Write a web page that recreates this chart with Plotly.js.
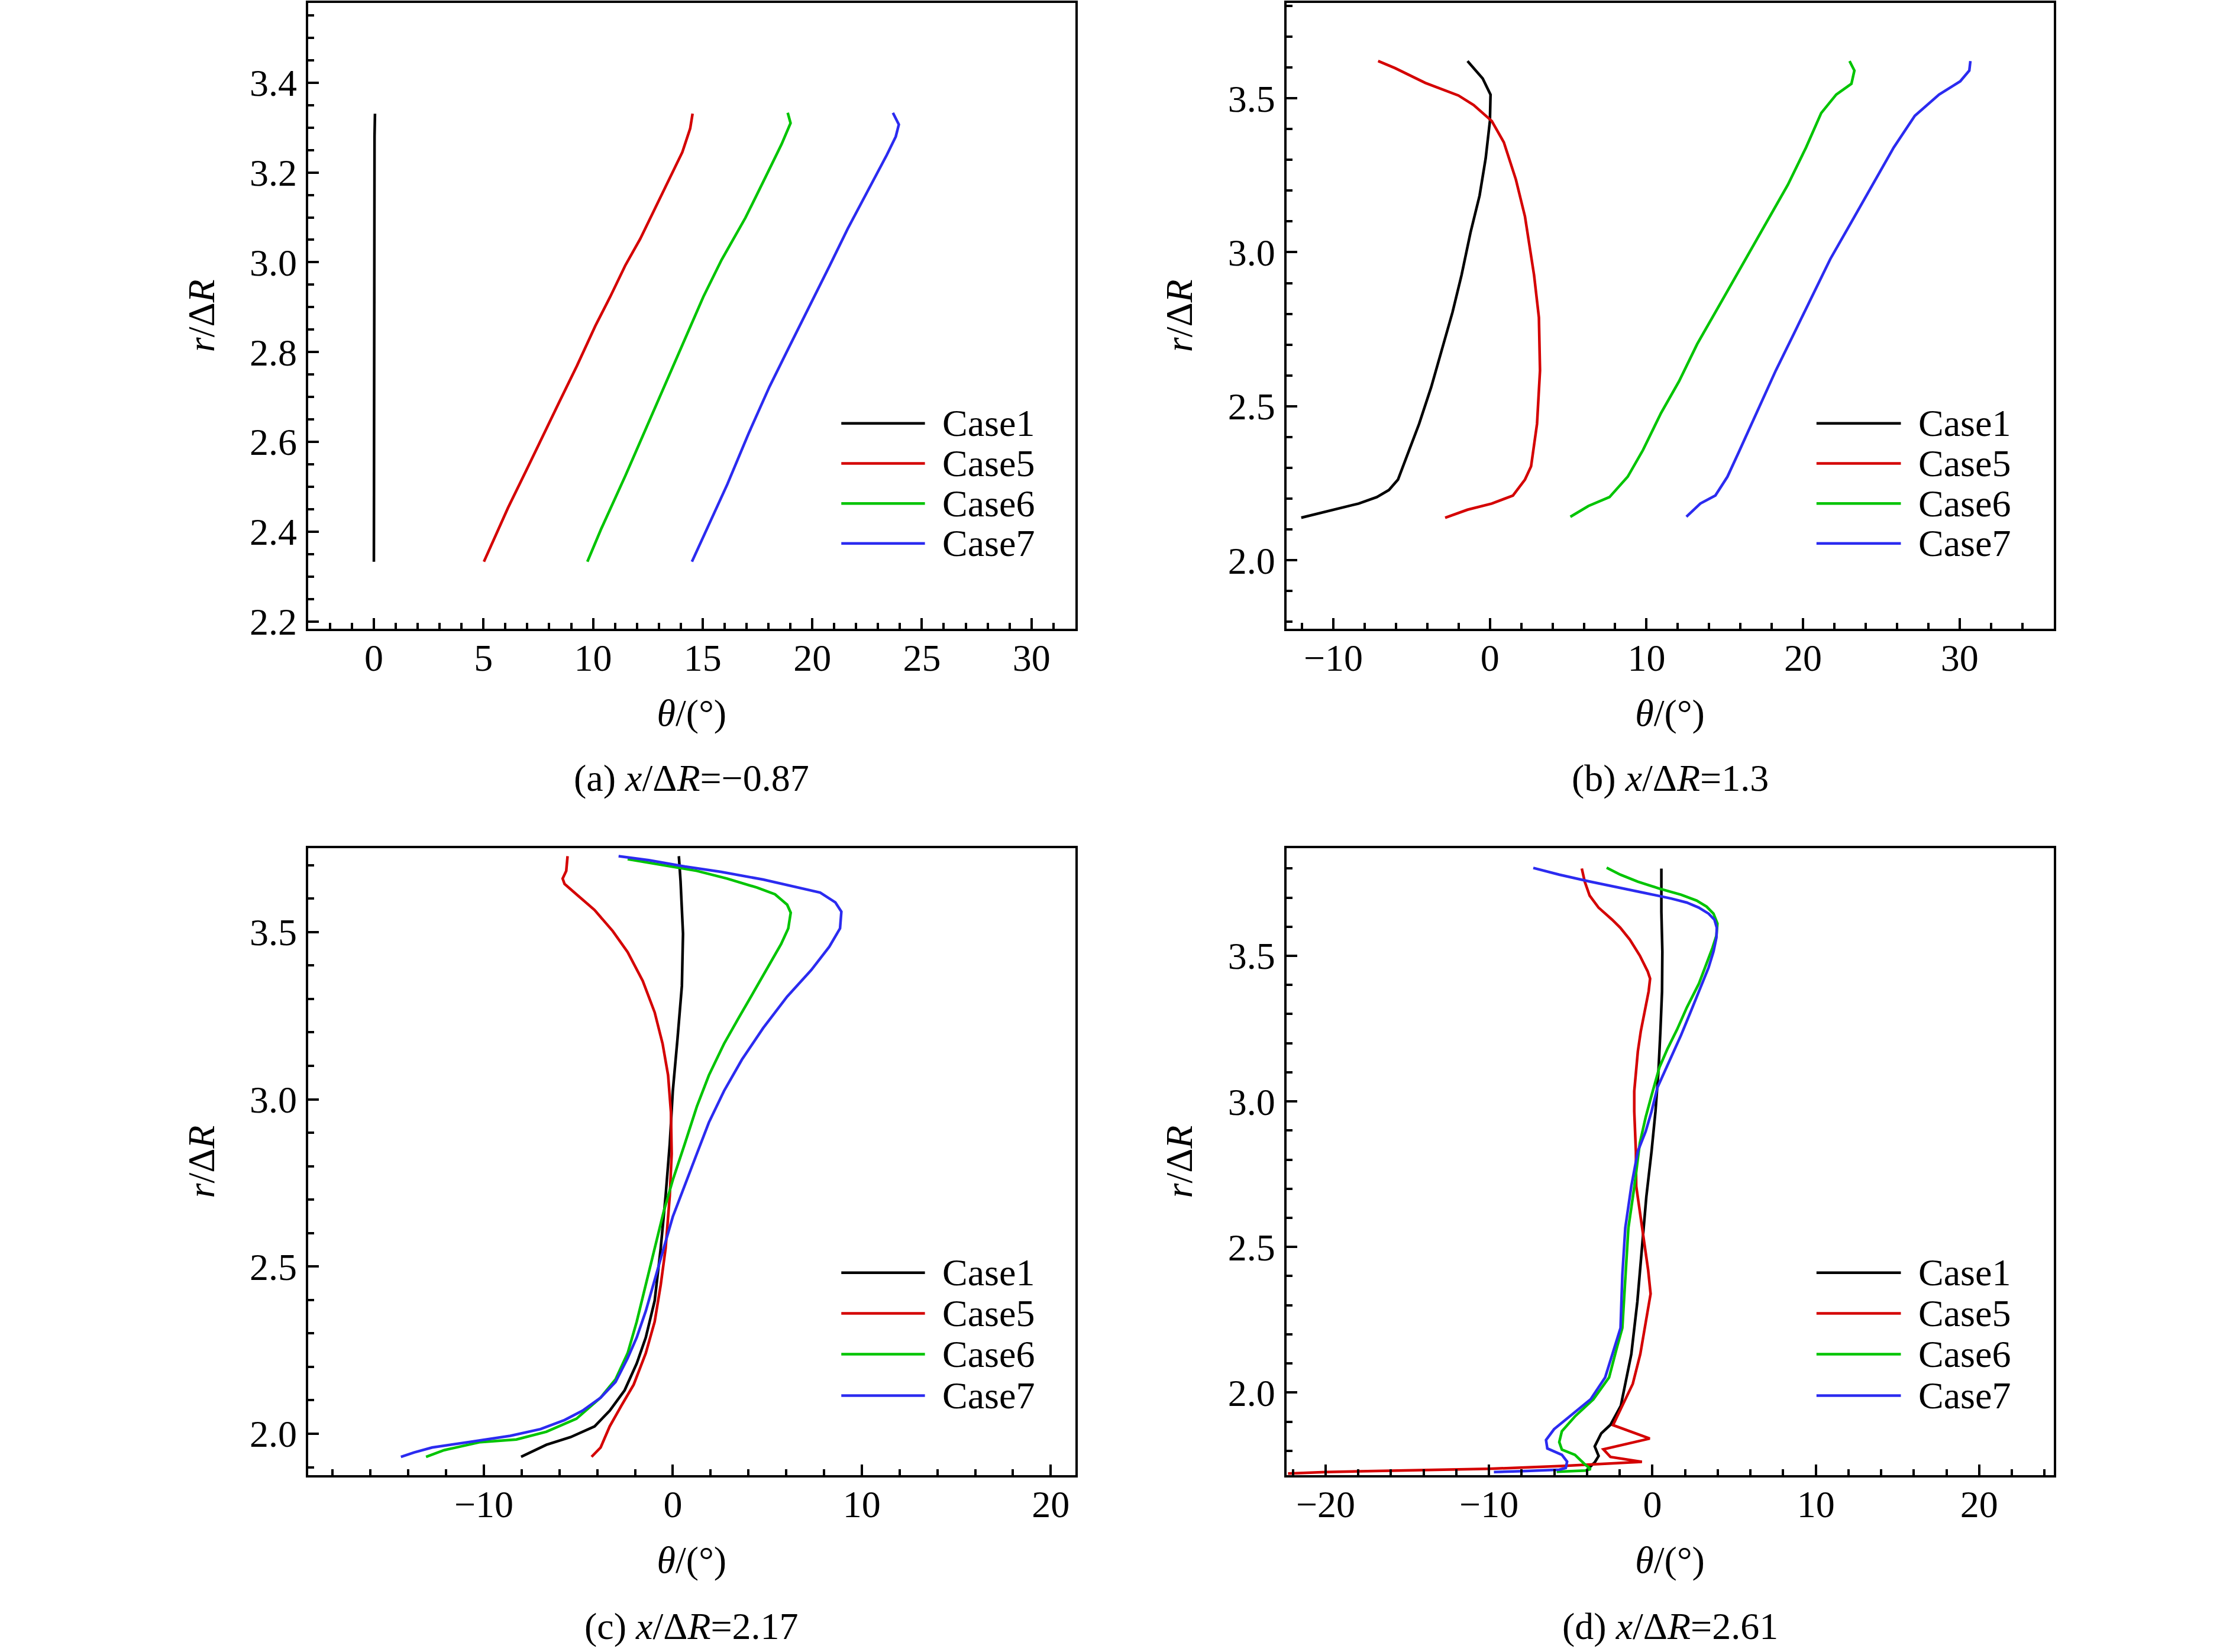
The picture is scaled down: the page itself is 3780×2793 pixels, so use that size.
<!DOCTYPE html>
<html>
<head>
<meta charset="utf-8">
<script src="https://cdn.plot.ly/plotly-3.0.1.min.js"></script>
<style>
	body {margin: 0; background: #fff;}
	#myDiv {width: 3780px; height: 2793px;}
</style>
</head>
<body>
<div id="myDiv"></div>
<script>
// series: theta in degrees, r in units of dR
var caseNames = ['Case1', 'Case5', 'Case6', 'Case7'];
var captions = ['(a) <i>x</i>/Δ<i>R</i>=−0.87', '(b) <i>x</i>/Δ<i>R</i>=1.3',
	'(c) <i>x</i>/Δ<i>R</i>=2.17', '(d) <i>x</i>/Δ<i>R</i>=2.61'];

// (a) x/dR = -0.87
var thetaA1 = [0, 0, 0, 0, 0.03, 0.05];
var rA1 = [2.333, 2.5, 2.8, 3.1, 3.28, 3.331];
var thetaA5 = [5.02, 5.43, 6.12, 6.94, 7.63, 8.45, 9.27, 10.10, 10.78, 11.47, 12.15, 12.84, 13.53, 14.07, 14.43, 14.54];
var rA5 = [2.333, 2.378, 2.453, 2.535, 2.606, 2.688, 2.770, 2.858, 2.923, 2.993, 3.052, 3.122, 3.192, 3.245, 3.298, 3.331];
var thetaA6 = [9.74, 10.37, 11.47, 12.15, 13.11, 14.21, 15.03, 15.86, 16.95, 17.78, 18.60, 19.01, 18.88];
var rA6 = [2.333, 2.406, 2.524, 2.600, 2.706, 2.829, 2.923, 3.005, 3.099, 3.181, 3.263, 3.310, 3.333];
var thetaA7 = [14.51, 15.31, 16.13, 17.09, 18.05, 18.88, 19.97, 20.80, 21.62, 22.58, 23.40, 23.81, 23.95, 23.68];
var rA7 = [2.333, 2.418, 2.506, 2.618, 2.723, 2.805, 2.911, 2.993, 3.075, 3.163, 3.239, 3.280, 3.307, 3.333];

// (b) x/dR = 1.3
var thetaB1 = [-1.43, -0.46, 0.04, 0.00, -0.27, -0.66, -1.24, -1.81, -2.39, -3.05, -3.75, -4.52, -5.29, -5.87, -6.45, -7.22, -8.38, -9.92, -12.05];
var rB1 = [3.621, 3.564, 3.512, 3.426, 3.305, 3.184, 3.064, 2.926, 2.805, 2.684, 2.562, 2.443, 2.340, 2.262, 2.228, 2.205, 2.184, 2.164, 2.138];
var thetaB5 = [-7.14, -6.06, -4.13, -2.01, -1.04, 0.12, 0.89, 1.66, 2.24, 2.82, 3.13, 3.20, 3.01, 2.63, 2.24, 1.47, 0.12, -1.43, -2.86];
var rB5 = [3.621, 3.598, 3.550, 3.509, 3.478, 3.426, 3.357, 3.236, 3.116, 2.926, 2.788, 2.616, 2.443, 2.305, 2.262, 2.210, 2.184, 2.164, 2.138];
var thetaB6 = [5.14, 6.29, 7.64, 8.80, 9.77, 10.93, 12.08, 13.24, 14.59, 15.95, 17.49, 19.03, 20.19, 21.16, 22.12, 23.09, 23.28, 22.97];
var rB6 = [2.141, 2.176, 2.205, 2.271, 2.357, 2.478, 2.581, 2.702, 2.822, 2.943, 3.081, 3.219, 3.340, 3.452, 3.512, 3.547, 3.590, 3.621];
var thetaB7 = [12.55, 13.44, 14.40, 15.17, 15.95, 16.72, 17.30, 18.26, 19.42, 20.58, 21.74, 23.09, 24.44, 25.79, 27.14, 28.69, 30.04, 30.62, 30.69];
var rB7 = [2.141, 2.184, 2.210, 2.271, 2.357, 2.443, 2.512, 2.616, 2.736, 2.857, 2.978, 3.098, 3.219, 3.340, 3.443, 3.512, 3.555, 3.590, 3.621];

// (c) x/dR = 2.17
var thetaC1 = [0.32, 0.41, 0.54, 0.48, 0.25, 0, -0.16, -0.38, -0.64, -0.96, -1.43, -1.91, -2.55, -3.34, -4.14, -5.41, -6.69, -7.32, -8.03];
var rC1 = [3.727, 3.652, 3.495, 3.339, 3.182, 3.025, 2.868, 2.712, 2.555, 2.398, 2.288, 2.210, 2.130, 2.069, 2.022, 1.990, 1.967, 1.951, 1.931];
var thetaC5 = [-5.57, -5.64, -5.83, -5.73, -5.10, -4.14, -3.18, -2.39, -1.59, -0.96, -0.54, -0.25, -0.10, -0.06, -0.16, -0.38, -0.64, -0.96, -1.43, -2.07, -2.71, -3.34, -3.82, -4.30];
var rC5 = [3.727, 3.683, 3.660, 3.644, 3.613, 3.566, 3.503, 3.440, 3.354, 3.260, 3.166, 3.072, 2.962, 2.837, 2.712, 2.555, 2.445, 2.335, 2.241, 2.147, 2.085, 2.022, 1.959, 1.931];
var thetaC6 = [-2.39, -0.64, 1.27, 2.87, 4.46, 5.41, 6.05, 6.24, 6.11, 5.73, 5.10, 4.30, 3.50, 2.71, 1.91, 1.27, 0.64, 0, -0.48, -0.96, -1.43, -1.91, -2.39, -3.03, -3.82, -5.10, -6.69, -8.28, -10.19, -11.46, -12.10, -13.06];
var rC6 = [3.718, 3.702, 3.683, 3.660, 3.633, 3.613, 3.582, 3.558, 3.511, 3.464, 3.401, 3.323, 3.245, 3.166, 3.072, 2.978, 2.868, 2.759, 2.665, 2.555, 2.445, 2.335, 2.241, 2.163, 2.108, 2.045, 2.006, 1.983, 1.975, 1.959, 1.951, 1.931];
var thetaC7 = [-2.87, -1.27, 0.64, 2.55, 4.78, 6.69, 7.80, 8.60, 8.92, 8.85, 8.28, 7.32, 6.05, 4.78, 3.66, 2.71, 1.91, 1.27, 0.64, 0, -0.48, -0.96, -1.43, -1.91, -2.39, -3.03, -3.82, -4.78, -5.73, -7.00, -8.60, -10.83, -12.74, -13.69, -14.39];
var rC7 = [3.727, 3.715, 3.696, 3.680, 3.657, 3.633, 3.618, 3.589, 3.561, 3.511, 3.456, 3.386, 3.307, 3.213, 3.119, 3.025, 2.931, 2.837, 2.743, 2.649, 2.555, 2.461, 2.367, 2.288, 2.226, 2.155, 2.108, 2.069, 2.041, 2.014, 1.994, 1.975, 1.959, 1.944, 1.931];

// (d) x/dR = 2.61
var thetaD1 = [0.55, 0.55, 0.61, 0.59, 0.49, 0.37, 0.19, -0.05, -0.37, -0.63, -0.92, -1.29, -1.61, -1.93, -2.57, -3.13, -3.53, -3.29, -3.53, -3.86, -4.0];
var rD1 = [3.80, 3.652, 3.515, 3.378, 3.241, 3.103, 2.966, 2.829, 2.673, 2.493, 2.312, 2.132, 2.044, 1.955, 1.889, 1.860, 1.815, 1.782, 1.760, 1.741, 1.735];
var thetaD5 = [-4.32, -4.14, -3.84, -3.30, -2.46, -1.97, -1.38, -0.77, -0.29, -0.14, -0.23, -0.47, -0.71, -0.89, -1.01, -1.11, -1.11, -1.07, -1.01, -0.99, -0.63, -0.26, -0.11, -0.37, -0.74, -1.20, -1.85, -2.41, -0.16, -3.00, -2.57, -0.64, -5.54, -10.0, -20.0, -22.3];
var rD5 = [3.80, 3.755, 3.707, 3.666, 3.624, 3.597, 3.556, 3.501, 3.447, 3.422, 3.378, 3.309, 3.241, 3.172, 3.103, 3.035, 2.966, 2.897, 2.829, 2.709, 2.565, 2.421, 2.339, 2.258, 2.132, 2.030, 1.955, 1.888, 1.842, 1.805, 1.779, 1.762, 1.748, 1.738, 1.727, 1.722];
var thetaD6 = [-2.80, -1.97, -0.89, 0.43, 1.75, 2.71, 3.32, 3.74, 3.98, 3.92, 3.68, 3.32, 2.85, 2.11, 1.51, 0.91, 0.43, -0.05, -0.41, -0.77, -1.10, -1.47, -1.66, -1.84, -2.17, -2.65, -3.61, -4.74, -5.54, -5.70, -5.54, -4.74, -4.18, -3.78, -4.10, -5.86];
var rD6 = [3.803, 3.779, 3.755, 3.731, 3.710, 3.690, 3.669, 3.645, 3.611, 3.570, 3.528, 3.474, 3.405, 3.323, 3.247, 3.179, 3.117, 3.021, 2.946, 2.857, 2.709, 2.565, 2.403, 2.222, 2.155, 2.052, 1.977, 1.918, 1.867, 1.830, 1.804, 1.786, 1.756, 1.737, 1.732, 1.728];
var thetaD7 = [-7.29, -5.70, -3.90, -2.09, -0.29, 1.15, 2.11, 2.83, 3.44, 3.80, 3.94, 3.92, 3.74, 3.44, 2.96, 2.35, 1.75, 1.15, 0.67, 0.31, -0.05, -0.41, -0.89, -1.29, -1.66, -1.84, -1.95, -2.33, -2.89, -3.78, -4.90, -6.02, -6.51, -6.43, -5.54, -5.22, -5.30, -5.70, -7.95, -9.70];
var rD7 = [3.802, 3.779, 3.756, 3.734, 3.714, 3.697, 3.683, 3.666, 3.645, 3.624, 3.597, 3.563, 3.515, 3.460, 3.391, 3.309, 3.227, 3.151, 3.090, 3.048, 2.966, 2.897, 2.829, 2.709, 2.565, 2.403, 2.222, 2.155, 2.052, 1.977, 1.926, 1.874, 1.837, 1.808, 1.786, 1.763, 1.741, 1.735, 1.730, 1.727];

var colors = ['#000000', '#d40000', '#00c400', '#2b2bf0'];
var fontFam = '"Liberation Serif", "Times New Roman", serif';

var panels = [
	{theta: [thetaA1, thetaA5, thetaA6, thetaA7], r: [rA1, rA5, rA6, rA7], xa: 'x', ya: 'y'},
	{theta: [thetaB1, thetaB5, thetaB6, thetaB7], r: [rB1, rB5, rB6, rB7], xa: 'x2', ya: 'y2'},
	{theta: [thetaC1, thetaC5, thetaC6, thetaC7], r: [rC1, rC5, rC6, rC7], xa: 'x3', ya: 'y3'},
	{theta: [thetaD1, thetaD5, thetaD6, thetaD7], r: [rD1, rD5, rD6, rD7], xa: 'x4', ya: 'y4'}
];

var data = [];
for (var p in panels){
	for (var k = 0; k < 4; k++){
		data.push({
			x: panels[p].theta[k],
			y: panels[p].r[k],
			xaxis: panels[p].xa,
			yaxis: panels[p].ya,
			type: 'scatter',
			mode: 'lines',
			name: caseNames[k],
			showlegend: false,
			line: {color: colors[k], width: 4.5}
		});
	};
};

function xAxis(dom, rng, dt, mdt, anchor){
	return {
		domain: dom, range: rng, anchor: anchor, dtick: dt, tick0: 0,
		showline: true, linewidth: 4, linecolor: '#000', mirror: true,
		showgrid: false, zeroline: false,
		ticks: 'inside', ticklen: 18, tickwidth: 4, tickcolor: '#000',
		minor: {dtick: mdt, tick0: 0, ticks: 'inside', ticklen: 10, tickwidth: 4, tickcolor: '#000'},
		ticklabelstandoff: -10,
		tickfont: {family: fontFam, size: 64, color: '#000'},
		title: {text: '<i>θ</i>/(°)', font: {family: fontFam, size: 64, color: '#000'}, standoff: 37}
	};
};
function yAxis(dom, rng, dt, mdt, anchor){
	return {
		domain: dom, range: rng, anchor: anchor, dtick: dt, tick0: 0, tickformat: '.1f',
		showline: true, linewidth: 4, linecolor: '#000', mirror: true,
		showgrid: false, zeroline: false,
		ticks: 'inside', ticklen: 18, tickwidth: 4, tickcolor: '#000',
		minor: {dtick: mdt, tick0: 0, ticks: 'inside', ticklen: 10, tickwidth: 4, tickcolor: '#000'},
		ticklabelstandoff: 2,
		tickfont: {family: fontFam, size: 64, color: '#000'},
		title: {text: '<i>r</i>/Δ<i>R</i>', font: {family: fontFam, size: 64, color: '#000'}, standoff: 40}
	};
};

var colL = [0.1378, 0.4809], colR = [0.5753, 0.9184];
var rowT = [0.6195, 0.9983], rowB = [0.1070, 0.4866];

var layout = {
	width: 3780,
	height: 2793,
	paper_bgcolor: '#fff',
	plot_bgcolor: '#fff',
	showlegend: false,
	margin: {l: 0, r: 0, t: 0, b: 0, pad: 0},
	font: {family: fontFam, size: 64, color: '#000'},
	xaxis: xAxis(colL, [-3, 32], 5, 1, 'y'),
	yaxis: yAxis(rowT, [2.184, 3.578], 0.2, 0.05, 'x'),
	xaxis2: xAxis(colR, [-13, 36], 10, 2, 'y2'),
	yaxis2: yAxis(rowT, [1.778, 3.81], 0.5, 0.1, 'x2'),
	xaxis3: xAxis(colL, [-19.3, 21.3], 10, 2, 'y3'),
	yaxis3: yAxis(rowB, [1.876, 3.751], 0.5, 0.1, 'x3'),
	xaxis4: xAxis(colR, [-22.4, 24.55], 10, 2, 'y4'),
	yaxis4: yAxis(rowB, [1.716, 3.87], 0.5, 0.1, 'x4'),
	shapes: [],
	annotations: []
};

// legend boxes drawn per panel, in axis-domain units
var legendRows = [[0.328, 0.264, 0.200, 0.136], [0.328, 0.264, 0.200, 0.136],
	[0.323, 0.258, 0.193, 0.127], [0.323, 0.258, 0.193, 0.127]];
var legX = [[0.695, 0.804, 0.825], [0.691, 0.801, 0.822], [0.695, 0.804, 0.825], [0.691, 0.801, 0.822]];
for (var p = 0; p < 4; p++){
	var xr = panels[p].xa + ' domain', yr = panels[p].ya + ' domain';
	for (var k = 0; k < 4; k++){
		layout.shapes.push({type: 'line', xref: xr, yref: yr,
			x0: legX[p][0], x1: legX[p][1], y0: legendRows[p][k], y1: legendRows[p][k],
			line: {color: colors[k], width: 4.5}});
		layout.annotations.push({xref: xr, yref: yr, x: legX[p][2], y: legendRows[p][k],
			xanchor: 'left', yanchor: 'middle', showarrow: false, text: caseNames[k],
			font: {family: fontFam, size: 64, color: '#000'}});
	};
	layout.annotations.push({xref: xr, yref: yr, x: 0.5, y: (p < 2 ? -0.239 : -0.2406),
		xanchor: 'center', yanchor: 'middle', showarrow: false, text: captions[p],
		font: {family: fontFam, size: 64, color: '#000'}});
};

Plotly.newPlot('myDiv', data, layout, {displayModeBar: false, responsive: false});
</script>
</body>
</html>
